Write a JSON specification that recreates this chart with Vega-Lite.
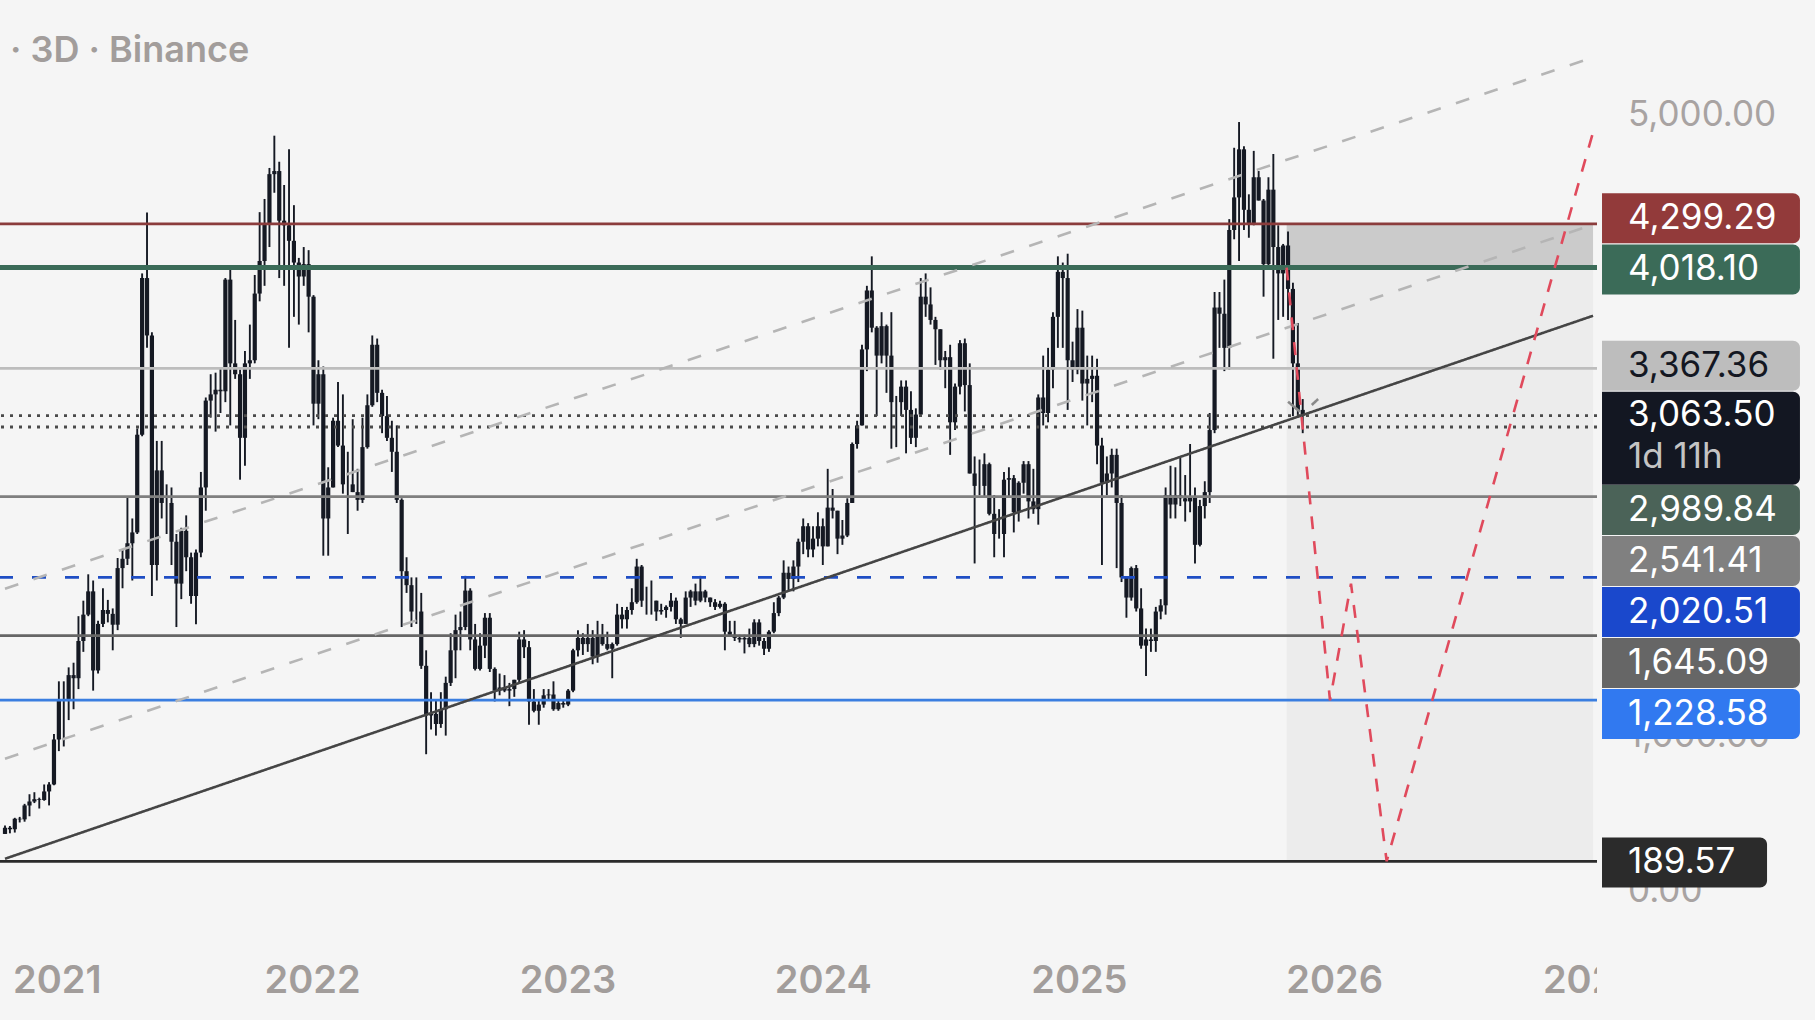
{
  "$schema": "https://vega.github.io/schema/vega-lite/v6.json",
  "background": "#f5f5f5",
  "padding": 0,
  "bounds": "flush",
  "spacing": 0,
  "config": {"view": {"stroke": null}, "font": "Inter"},
  "resolve": {"scale": {"x": "independent", "y": "independent", "color": "independent", "strokeDash": "independent"}},
  "datasets": {
    "candles": [
      {"t":"2020-10-19","o":366,"h":420,"l":365,"c":406},
      {"t":"2020-10-26","o":406,"h":417,"l":370,"c":396},
      {"t":"2020-11-02","o":396,"h":470,"l":375,"c":464},
      {"t":"2020-11-09","o":464,"h":476,"l":440,"c":460},
      {"t":"2020-11-16","o":460,"h":560,"l":445,"c":550},
      {"t":"2020-11-23","o":550,"h":622,"l":480,"c":575},
      {"t":"2020-11-30","o":575,"h":635,"l":565,"c":590},
      {"t":"2020-12-07","o":590,"h":600,"l":530,"c":585},
      {"t":"2020-12-14","o":585,"h":685,"l":580,"c":640},
      {"t":"2020-12-21","o":640,"h":700,"l":550,"c":685},
      {"t":"2020-12-28","o":685,"h":1010,"l":680,"c":975},
      {"t":"2021-01-04","o":975,"h":1350,"l":900,"c":1230},
      {"t":"2021-01-11","o":1230,"h":1350,"l":930,"c":1230},
      {"t":"2021-01-18","o":1230,"h":1440,"l":1100,"c":1390},
      {"t":"2021-01-25","o":1390,"h":1470,"l":1170,"c":1370},
      {"t":"2021-02-01","o":1370,"h":1770,"l":1300,"c":1610},
      {"t":"2021-02-08","o":1610,"h":1870,"l":1540,"c":1780},
      {"t":"2021-02-15","o":1780,"h":2040,"l":1770,"c":1930},
      {"t":"2021-02-22","o":1930,"h":2000,"l":1290,"c":1420},
      {"t":"2021-03-01","o":1420,"h":1740,"l":1400,"c":1720},
      {"t":"2021-03-08","o":1720,"h":1950,"l":1700,"c":1810},
      {"t":"2021-03-15","o":1810,"h":1875,"l":1730,"c":1785},
      {"t":"2021-03-22","o":1785,"h":1820,"l":1550,"c":1715},
      {"t":"2021-03-29","o":1715,"h":2145,"l":1680,"c":2080},
      {"t":"2021-04-05","o":2080,"h":2200,"l":1950,"c":2140},
      {"t":"2021-04-12","o":2140,"h":2545,"l":2100,"c":2240},
      {"t":"2021-04-19","o":2240,"h":2400,"l":2000,"c":2310},
      {"t":"2021-04-26","o":2310,"h":2980,"l":2300,"c":2940},
      {"t":"2021-05-03","o":2940,"h":3980,"l":2930,"c":3950},
      {"t":"2021-05-10","o":3950,"h":4372,"l":3500,"c":3580},
      {"t":"2021-05-17","o":3580,"h":3600,"l":1900,"c":2100},
      {"t":"2021-05-24","o":2100,"h":2900,"l":2000,"c":2710},
      {"t":"2021-05-31","o":2710,"h":2900,"l":2400,"c":2500},
      {"t":"2021-06-07","o":2500,"h":2620,"l":2300,"c":2500},
      {"t":"2021-06-14","o":2500,"h":2600,"l":2100,"c":2250},
      {"t":"2021-06-21","o":2250,"h":2300,"l":1700,"c":1980},
      {"t":"2021-06-28","o":1980,"h":2340,"l":1880,"c":2320},
      {"t":"2021-07-05","o":2320,"h":2420,"l":2060,"c":2150},
      {"t":"2021-07-12","o":2150,"h":2180,"l":1850,"c":1900},
      {"t":"2021-07-19","o":1900,"h":2200,"l":1718,"c":2180},
      {"t":"2021-07-26","o":2180,"h":2700,"l":2150,"c":2600},
      {"t":"2021-08-02","o":2600,"h":3180,"l":2450,"c":3160},
      {"t":"2021-08-09","o":3160,"h":3330,"l":3050,"c":3200},
      {"t":"2021-08-16","o":3200,"h":3340,"l":2960,"c":3230},
      {"t":"2021-08-23","o":3230,"h":3370,"l":3080,"c":3220},
      {"t":"2021-08-30","o":3220,"h":3950,"l":3150,"c":3940},
      {"t":"2021-09-06","o":3940,"h":4025,"l":3000,"c":3400},
      {"t":"2021-09-13","o":3400,"h":3680,"l":3300,"c":3330},
      {"t":"2021-09-20","o":3330,"h":3360,"l":2650,"c":2920},
      {"t":"2021-09-27","o":2920,"h":3480,"l":2740,"c":3400},
      {"t":"2021-10-04","o":3400,"h":3650,"l":3300,"c":3420},
      {"t":"2021-10-11","o":3420,"h":3970,"l":3400,"c":3850},
      {"t":"2021-10-18","o":3850,"h":4375,"l":3800,"c":4060},
      {"t":"2021-10-25","o":4060,"h":4460,"l":3900,"c":4300},
      {"t":"2021-11-01","o":4300,"h":4660,"l":4150,"c":4620},
      {"t":"2021-11-08","o":4620,"h":4868,"l":4500,"c":4640},
      {"t":"2021-11-15","o":4640,"h":4700,"l":3950,"c":4320},
      {"t":"2021-11-22","o":4320,"h":4550,"l":3900,"c":4290},
      {"t":"2021-11-29","o":4290,"h":4780,"l":3500,"c":4190},
      {"t":"2021-12-06","o":4190,"h":4420,"l":3700,"c":4050},
      {"t":"2021-12-13","o":4050,"h":4080,"l":3650,"c":3960},
      {"t":"2021-12-20","o":3960,"h":4150,"l":3900,"c":4040},
      {"t":"2021-12-27","o":4040,"h":4130,"l":3600,"c":3830},
      {"t":"2022-01-03","o":3830,"h":3840,"l":3000,"c":3140},
      {"t":"2022-01-10","o":3140,"h":3420,"l":3040,"c":3330},
      {"t":"2022-01-17","o":3330,"h":3380,"l":2160,"c":2400},
      {"t":"2022-01-24","o":2400,"h":2730,"l":2160,"c":2600},
      {"t":"2022-01-31","o":2600,"h":3050,"l":2600,"c":3030},
      {"t":"2022-02-07","o":3030,"h":3280,"l":2860,"c":2870},
      {"t":"2022-02-14","o":2870,"h":3200,"l":2560,"c":2620},
      {"t":"2022-02-21","o":2620,"h":2830,"l":2300,"c":2620},
      {"t":"2022-02-28","o":2620,"h":3040,"l":2570,"c":2570},
      {"t":"2022-03-07","o":2570,"h":2720,"l":2450,"c":2520},
      {"t":"2022-03-14","o":2520,"h":3050,"l":2500,"c":2860},
      {"t":"2022-03-21","o":2860,"h":3200,"l":2850,"c":3130},
      {"t":"2022-03-28","o":3130,"h":3580,"l":3120,"c":3520},
      {"t":"2022-04-04","o":3520,"h":3560,"l":3150,"c":3210},
      {"t":"2022-04-11","o":3210,"h":3230,"l":2950,"c":3060},
      {"t":"2022-04-18","o":3060,"h":3190,"l":2900,"c":2920},
      {"t":"2022-04-25","o":2920,"h":3030,"l":2700,"c":2830},
      {"t":"2022-05-02","o":2830,"h":3000,"l":2500,"c":2520},
      {"t":"2022-05-09","o":2520,"h":2530,"l":1700,"c":2060},
      {"t":"2022-05-16","o":2060,"h":2150,"l":1920,"c":1970},
      {"t":"2022-05-23","o":1970,"h":2020,"l":1700,"c":1800},
      {"t":"2022-05-30","o":1800,"h":2020,"l":1720,"c":1800},
      {"t":"2022-06-06","o":1800,"h":1920,"l":1430,"c":1450},
      {"t":"2022-06-13","o":1450,"h":1550,"l":880,"c":1130},
      {"t":"2022-06-20","o":1130,"h":1280,"l":1040,"c":1140},
      {"t":"2022-06-27","o":1140,"h":1230,"l":1000,"c":1075},
      {"t":"2022-07-04","o":1075,"h":1280,"l":1050,"c":1170},
      {"t":"2022-07-11","o":1170,"h":1380,"l":1000,"c":1340},
      {"t":"2022-07-18","o":1340,"h":1660,"l":1320,"c":1550},
      {"t":"2022-07-25","o":1550,"h":1780,"l":1370,"c":1680},
      {"t":"2022-08-01","o":1680,"h":1800,"l":1550,"c":1700},
      {"t":"2022-08-08","o":1700,"h":2030,"l":1680,"c":1935},
      {"t":"2022-08-15","o":1935,"h":1950,"l":1550,"c":1620},
      {"t":"2022-08-22","o":1620,"h":1720,"l":1420,"c":1430},
      {"t":"2022-08-29","o":1430,"h":1660,"l":1420,"c":1580},
      {"t":"2022-09-05","o":1580,"h":1790,"l":1500,"c":1760},
      {"t":"2022-09-12","o":1760,"h":1790,"l":1410,"c":1430},
      {"t":"2022-09-19","o":1430,"h":1440,"l":1220,"c":1290},
      {"t":"2022-09-26","o":1290,"h":1400,"l":1260,"c":1310},
      {"t":"2022-10-03","o":1310,"h":1390,"l":1280,"c":1290},
      {"t":"2022-10-10","o":1290,"h":1340,"l":1190,"c":1300},
      {"t":"2022-10-17","o":1300,"h":1360,"l":1250,"c":1360},
      {"t":"2022-10-24","o":1360,"h":1670,"l":1340,"c":1620},
      {"t":"2022-10-31","o":1620,"h":1680,"l":1500,"c":1570},
      {"t":"2022-11-07","o":1570,"h":1610,"l":1070,"c":1220},
      {"t":"2022-11-14","o":1220,"h":1300,"l":1150,"c":1160},
      {"t":"2022-11-21","o":1160,"h":1230,"l":1070,"c":1200},
      {"t":"2022-11-28","o":1200,"h":1300,"l":1180,"c":1260},
      {"t":"2022-12-05","o":1260,"h":1300,"l":1225,"c":1265},
      {"t":"2022-12-12","o":1265,"h":1350,"l":1160,"c":1170},
      {"t":"2022-12-19","o":1170,"h":1230,"l":1160,"c":1210},
      {"t":"2022-12-26","o":1210,"h":1230,"l":1180,"c":1200},
      {"t":"2023-01-02","o":1200,"h":1300,"l":1190,"c":1290},
      {"t":"2023-01-09","o":1290,"h":1560,"l":1280,"c":1550},
      {"t":"2023-01-16","o":1550,"h":1680,"l":1510,"c":1630},
      {"t":"2023-01-23","o":1630,"h":1660,"l":1520,"c":1590},
      {"t":"2023-01-30","o":1590,"h":1720,"l":1540,"c":1630},
      {"t":"2023-02-06","o":1630,"h":1680,"l":1460,"c":1510},
      {"t":"2023-02-13","o":1510,"h":1740,"l":1470,"c":1640},
      {"t":"2023-02-20","o":1640,"h":1720,"l":1580,"c":1590},
      {"t":"2023-02-27","o":1590,"h":1670,"l":1550,"c":1560},
      {"t":"2023-03-06","o":1560,"h":1600,"l":1370,"c":1590},
      {"t":"2023-03-13","o":1590,"h":1850,"l":1580,"c":1780},
      {"t":"2023-03-20","o":1780,"h":1830,"l":1690,"c":1750},
      {"t":"2023-03-27","o":1750,"h":1830,"l":1690,"c":1810},
      {"t":"2023-04-03","o":1810,"h":1950,"l":1780,"c":1860},
      {"t":"2023-04-10","o":1860,"h":2140,"l":1850,"c":2090},
      {"t":"2023-04-17","o":2090,"h":2100,"l":1830,"c":1870},
      {"t":"2023-04-24","o":1870,"h":1960,"l":1780,"c":1870},
      {"t":"2023-05-01","o":1870,"h":2000,"l":1780,"c":1870},
      {"t":"2023-05-08","o":1870,"h":1870,"l":1740,"c":1800},
      {"t":"2023-05-15","o":1800,"h":1850,"l":1780,"c":1810},
      {"t":"2023-05-22","o":1810,"h":1840,"l":1760,"c":1830},
      {"t":"2023-05-29","o":1830,"h":1920,"l":1800,"c":1870},
      {"t":"2023-06-05","o":1870,"h":1890,"l":1720,"c":1750},
      {"t":"2023-06-12","o":1750,"h":1760,"l":1630,"c":1720},
      {"t":"2023-06-19","o":1720,"h":1930,"l":1720,"c":1890},
      {"t":"2023-06-26","o":1890,"h":1940,"l":1830,"c":1930},
      {"t":"2023-07-03","o":1930,"h":1980,"l":1840,"c":1870},
      {"t":"2023-07-10","o":1870,"h":2030,"l":1860,"c":1930},
      {"t":"2023-07-17","o":1930,"h":1940,"l":1860,"c":1890},
      {"t":"2023-07-24","o":1890,"h":1890,"l":1830,"c":1860},
      {"t":"2023-07-31","o":1860,"h":1880,"l":1810,"c":1830},
      {"t":"2023-08-07","o":1830,"h":1870,"l":1820,"c":1850},
      {"t":"2023-08-14","o":1850,"h":1860,"l":1550,"c":1670},
      {"t":"2023-08-21","o":1670,"h":1740,"l":1650,"c":1650},
      {"t":"2023-08-28","o":1650,"h":1740,"l":1610,"c":1630},
      {"t":"2023-09-04","o":1630,"h":1650,"l":1600,"c":1620},
      {"t":"2023-09-11","o":1620,"h":1650,"l":1530,"c":1630},
      {"t":"2023-09-18","o":1630,"h":1690,"l":1570,"c":1590},
      {"t":"2023-09-25","o":1590,"h":1750,"l":1570,"c":1730},
      {"t":"2023-10-02","o":1730,"h":1750,"l":1580,"c":1610},
      {"t":"2023-10-09","o":1610,"h":1630,"l":1520,"c":1560},
      {"t":"2023-10-16","o":1560,"h":1680,"l":1540,"c":1670},
      {"t":"2023-10-23","o":1670,"h":1860,"l":1660,"c":1790},
      {"t":"2023-10-30","o":1790,"h":1900,"l":1770,"c":1890},
      {"t":"2023-11-06","o":1890,"h":2130,"l":1880,"c":2050},
      {"t":"2023-11-13","o":2050,"h":2090,"l":1930,"c":2010},
      {"t":"2023-11-20","o":2010,"h":2130,"l":1930,"c":2090},
      {"t":"2023-11-27","o":2090,"h":2270,"l":1990,"c":2250},
      {"t":"2023-12-04","o":2250,"h":2400,"l":2170,"c":2350},
      {"t":"2023-12-11","o":2350,"h":2370,"l":2150,"c":2200},
      {"t":"2023-12-18","o":2200,"h":2350,"l":2150,"c":2270},
      {"t":"2023-12-25","o":2270,"h":2440,"l":2220,"c":2350},
      {"t":"2024-01-01","o":2350,"h":2400,"l":2100,"c":2220},
      {"t":"2024-01-08","o":2220,"h":2720,"l":2220,"c":2470},
      {"t":"2024-01-15","o":2470,"h":2590,"l":2400,"c":2450},
      {"t":"2024-01-22","o":2450,"h":2450,"l":2170,"c":2270},
      {"t":"2024-01-29","o":2270,"h":2390,"l":2230,"c":2290},
      {"t":"2024-02-05","o":2290,"h":2530,"l":2280,"c":2500},
      {"t":"2024-02-12","o":2500,"h":2890,"l":2500,"c":2880},
      {"t":"2024-02-19","o":2880,"h":3030,"l":2850,"c":3000},
      {"t":"2024-02-26","o":3000,"h":3520,"l":3000,"c":3490},
      {"t":"2024-03-04","o":3490,"h":3900,"l":3350,"c":3870},
      {"t":"2024-03-11","o":3870,"h":4090,"l":3600,"c":3630},
      {"t":"2024-03-18","o":3630,"h":3640,"l":3060,"c":3450},
      {"t":"2024-03-25","o":3450,"h":3730,"l":3400,"c":3640},
      {"t":"2024-04-01","o":3640,"h":3650,"l":3210,"c":3450},
      {"t":"2024-04-08","o":3450,"h":3730,"l":2850,"c":3150},
      {"t":"2024-04-15","o":3150,"h":3190,"l":2860,"c":3150},
      {"t":"2024-04-22","o":3150,"h":3290,"l":3060,"c":3250},
      {"t":"2024-04-29","o":3250,"h":3290,"l":2820,"c":3100},
      {"t":"2024-05-06","o":3100,"h":3220,"l":2880,"c":2920},
      {"t":"2024-05-13","o":2920,"h":3110,"l":2860,"c":3070},
      {"t":"2024-05-20","o":3070,"h":3950,"l":3060,"c":3830},
      {"t":"2024-05-27","o":3830,"h":3980,"l":3700,"c":3780},
      {"t":"2024-06-03","o":3780,"h":3890,"l":3650,"c":3680},
      {"t":"2024-06-10","o":3680,"h":3700,"l":3390,"c":3620},
      {"t":"2024-06-17","o":3620,"h":3620,"l":3360,"c":3420},
      {"t":"2024-06-24","o":3420,"h":3480,"l":3240,"c":3440},
      {"t":"2024-07-01","o":3440,"h":3520,"l":2810,"c":3020},
      {"t":"2024-07-08","o":3020,"h":3270,"l":2970,"c":3250},
      {"t":"2024-07-15","o":3250,"h":3550,"l":3200,"c":3530},
      {"t":"2024-07-22","o":3530,"h":3560,"l":3090,"c":3260},
      {"t":"2024-07-29","o":3260,"h":3400,"l":2690,"c":2690},
      {"t":"2024-08-05","o":2690,"h":2800,"l":2110,"c":2610},
      {"t":"2024-08-12","o":2610,"h":2780,"l":2550,"c":2610},
      {"t":"2024-08-19","o":2610,"h":2820,"l":2540,"c":2750},
      {"t":"2024-08-26","o":2750,"h":2760,"l":2420,"c":2430},
      {"t":"2024-09-02","o":2430,"h":2550,"l":2150,"c":2300},
      {"t":"2024-09-09","o":2300,"h":2460,"l":2270,"c":2300},
      {"t":"2024-09-16","o":2300,"h":2700,"l":2150,"c":2650},
      {"t":"2024-09-23","o":2650,"h":2730,"l":2540,"c":2660},
      {"t":"2024-09-30","o":2660,"h":2680,"l":2310,"c":2440},
      {"t":"2024-10-07","o":2440,"h":2640,"l":2380,"c":2630},
      {"t":"2024-10-14","o":2630,"h":2770,"l":2560,"c":2750},
      {"t":"2024-10-21","o":2750,"h":2770,"l":2400,"c":2510},
      {"t":"2024-10-28","o":2510,"h":2720,"l":2430,"c":2460},
      {"t":"2024-11-04","o":2460,"h":3200,"l":2360,"c":3180},
      {"t":"2024-11-11","o":3180,"h":3450,"l":3000,"c":3080},
      {"t":"2024-11-18","o":3080,"h":3500,"l":3020,"c":3360},
      {"t":"2024-11-25","o":3360,"h":3730,"l":3240,"c":3700},
      {"t":"2024-12-02","o":3700,"h":4090,"l":3500,"c":3990},
      {"t":"2024-12-09","o":3990,"h":4050,"l":3500,"c":3950},
      {"t":"2024-12-16","o":3950,"h":4107,"l":3100,"c":3420},
      {"t":"2024-12-23","o":3420,"h":3540,"l":3280,"c":3360},
      {"t":"2024-12-30","o":3360,"h":3750,"l":3330,"c":3630},
      {"t":"2025-01-06","o":3630,"h":3740,"l":3160,"c":3270},
      {"t":"2025-01-13","o":3270,"h":3450,"l":3000,"c":3300},
      {"t":"2025-01-20","o":3300,"h":3450,"l":3150,"c":3320},
      {"t":"2025-01-27","o":3320,"h":3430,"l":2750,"c":2870},
      {"t":"2025-02-03","o":2870,"h":2920,"l":2100,"c":2630},
      {"t":"2025-02-10","o":2630,"h":2800,"l":2550,"c":2690},
      {"t":"2025-02-17","o":2690,"h":2850,"l":2600,"c":2810},
      {"t":"2025-02-24","o":2810,"h":2850,"l":2080,"c":2500},
      {"t":"2025-03-03","o":2500,"h":2550,"l":1990,"c":2020},
      {"t":"2025-03-10","o":2020,"h":2020,"l":1760,"c":1890},
      {"t":"2025-03-17","o":1890,"h":2090,"l":1870,"c":2080},
      {"t":"2025-03-24","o":2080,"h":2100,"l":1800,"c":1820},
      {"t":"2025-03-31","o":1820,"h":1950,"l":1560,"c":1580},
      {"t":"2025-04-07","o":1580,"h":1690,"l":1385,"c":1620},
      {"t":"2025-04-14","o":1620,"h":1690,"l":1540,"c":1610},
      {"t":"2025-04-21","o":1610,"h":1830,"l":1540,"c":1800},
      {"t":"2025-04-28","o":1800,"h":1880,"l":1750,"c":1840},
      {"t":"2025-05-05","o":1840,"h":2600,"l":1780,"c":2550},
      {"t":"2025-05-12","o":2550,"h":2740,"l":2400,"c":2490},
      {"t":"2025-05-19","o":2490,"h":2730,"l":2400,"c":2550},
      {"t":"2025-05-26","o":2550,"h":2790,"l":2480,"c":2530},
      {"t":"2025-06-02","o":2530,"h":2680,"l":2380,"c":2510},
      {"t":"2025-06-09","o":2510,"h":2880,"l":2440,"c":2540},
      {"t":"2025-06-16","o":2540,"h":2600,"l":2110,"c":2230},
      {"t":"2025-06-23","o":2230,"h":2520,"l":2220,"c":2480},
      {"t":"2025-06-30","o":2480,"h":2640,"l":2400,"c":2570},
      {"t":"2025-07-07","o":2570,"h":3080,"l":2500,"c":2970},
      {"t":"2025-07-14","o":2970,"h":3860,"l":2950,"c":3760},
      {"t":"2025-07-21","o":3760,"h":3860,"l":3500,"c":3720},
      {"t":"2025-07-28","o":3720,"h":3940,"l":3350,"c":3500},
      {"t":"2025-08-04","o":3500,"h":4330,"l":3360,"c":4260},
      {"t":"2025-08-11","o":4260,"h":4790,"l":4200,"c":4470},
      {"t":"2025-08-18","o":4470,"h":4956,"l":4060,"c":4780},
      {"t":"2025-08-25","o":4780,"h":4800,"l":4260,"c":4390},
      {"t":"2025-09-01","o":4390,"h":4490,"l":4210,"c":4300},
      {"t":"2025-09-08","o":4300,"h":4770,"l":4290,"c":4600},
      {"t":"2025-09-15","o":4600,"h":4640,"l":4450,"c":4450},
      {"t":"2025-09-22","o":4450,"h":4460,"l":3830,"c":4040},
      {"t":"2025-09-29","o":4040,"h":4600,"l":4020,"c":4520},
      {"t":"2025-10-06","o":4520,"h":4750,"l":3430,"c":4150},
      {"t":"2025-10-13","o":4150,"h":4290,"l":3680,"c":3980},
      {"t":"2025-10-20","o":3980,"h":4170,"l":3700,"c":4160},
      {"t":"2025-10-27","o":4160,"h":4250,"l":3680,"c":3880},
      {"t":"2025-11-03","o":3880,"h":3920,"l":3060,"c":3400},
      {"t":"2025-11-10","o":3400,"h":3660,"l":3050,"c":3100},
      {"t":"2025-11-17","o":3100,"h":3170,"l":2950,"c":3063.5}
    ],
    "levels": [
      {"name":"4,299.29","v":4299.29},
      {"name":"4,018.10","v":4018.10},
      {"name":"3,367.36","v":3367.36},
      {"name":"3,063.50","v":3063.50},
      {"name":"2,989.84","v":2989.84},
      {"name":"2,541.41","v":2541.41},
      {"name":"2,020.51","v":2020.51},
      {"name":"1,645.09","v":1645.09},
      {"name":"1,228.58","v":1228.58},
      {"name":"189.57","v":189.57}
    ],
    "zones": [
      {"zone":"stop","t":"2025-10-25","t2":"2027-01-06","lo":4018.10,"hi":4299.29},
      {"zone":"target","t":"2025-10-25","t2":"2027-01-06","lo":189.57,"hi":4018.10}
    ],
    "lines": [
      {"line":"channel_top","t":"2020-10-19","v":1947},
      {"line":"channel_top","t":"2027-01-06","v":5373},
      {"line":"channel_bottom","t":"2020-10-19","v":851},
      {"line":"channel_bottom","t":"2027-01-06","v":4294},
      {"line":"trend","t":"2020-10-19","v":206},
      {"line":"trend","t":"2027-01-06","v":3707},
      {"line":"arrow_left","t":"2025-10-27","v":3153},
      {"line":"arrow_left","t":"2025-11-13","v":3088},
      {"line":"arrow_right","t":"2025-11-30","v":3132},
      {"line":"arrow_right","t":"2025-12-09","v":3170},
      {"line":"projection","t":"2025-10-25","v":4018},
      {"line":"projection","t":"2025-12-26","v":1228},
      {"line":"projection","t":"2026-01-25","v":1980},
      {"line":"projection","t":"2026-03-17","v":190},
      {"line":"projection","t":"2027-01-06","v":4890}
    ],
    "tags": [
      {"name":"4,299.29","tag":4335},
      {"name":"4,018.10","tag":4006},
      {"name":"3,367.36","tag":3384},
      {"name":"3,063.50","tag":2918,"sub":"1d 11h"},
      {"name":"2,989.84","tag":2455},
      {"name":"2,541.41","tag":2126},
      {"name":"2,020.51","tag":1797},
      {"name":"1,645.09","tag":1468},
      {"name":"1,228.58","tag":1139},
      {"name":"189.57","tag":182}
    ],
    "ticks": [
      {"v":0,"label":"0.00"},
      {"v":1000,"label":"1,000.00"},
      {"v":5000,"label":"5,000.00"}
    ]
  },
  "hconcat": [
    {
      "width": 1597,
      "height": 940,
      "title": {"text": "· 3D · Binance", "anchor": "start", "orient": "top", "offset": -98, "dx": 10, "baseline": "alphabetic", "font": "Inter", "fontSize": 36, "fontWeight": 600, "color": "#a29d9b"},
      "resolve": {"scale": {"color": "independent", "strokeDash": "independent"}},
      "layer": [
        {
          "data": {"name": "zones"},
          "mark": {"type": "rect", "clip": true},
          "encoding": {
            "x": {"field": "t", "type": "temporal", "scale": {"domain": [{"year": 2020, "month": 10, "date": 19}, {"year": 2027, "month": 1, "date": 4, "hours": 12}]},
              "axis": {"title": null, "format": "%Y", "tickCount": {"interval": "year", "step": 1}, "grid": false, "domain": false, "ticks": false, "labelFlush": false, "labelOverlap": false, "labelBound": false, "labelPadding": 41, "labelBaseline": "middle", "labelFont": "Inter", "labelFontSize": 38, "labelFontWeight": 600, "labelColor": "#a29d9b"}},
            "x2": {"field": "t2"},
            "y": {"field": "lo", "type": "quantitative", "scale": {"domain": [-317.8, 5742.8], "nice": false, "zero": false}, "axis": null},
            "y2": {"field": "hi"},
            "color": {"field": "zone", "type": "nominal", "scale": {"domain": ["stop", "target"], "range": ["#cbcbcb", "#ececec"]}, "legend": null}
          }
        },
        {
          "data": {"name": "candles"},
          "mark": {"type": "rule", "clip": true, "color": "#151923", "strokeWidth": 1.9},
          "encoding": {
            "x": {"field": "t", "type": "temporal", "scale": {"domain": [{"year": 2020, "month": 10, "date": 19}, {"year": 2027, "month": 1, "date": 4, "hours": 12}]}},
            "y": {"field": "l", "type": "quantitative", "scale": {"domain": [-317.8, 5742.8], "nice": false, "zero": false}, "axis": null},
            "y2": {"field": "h"}
          }
        },
        {
          "data": {"name": "candles"},
          "mark": {"type": "bar", "clip": true, "color": "#151923", "width": 4.2},
          "encoding": {
            "x": {"field": "t", "type": "temporal", "scale": {"domain": [{"year": 2020, "month": 10, "date": 19}, {"year": 2027, "month": 1, "date": 4, "hours": 12}]}},
            "y": {"field": "o", "type": "quantitative", "scale": {"domain": [-317.8, 5742.8], "nice": false, "zero": false}, "axis": null},
            "y2": {"field": "c"}
          }
        },
        {
          "data": {"name": "levels"},
          "transform": [{"filter": "datum.name != '4,018.10'"}],
          "mark": {"type": "rule", "clip": true, "strokeWidth": 2.8},
          "encoding": {
            "y": {"field": "v", "type": "quantitative", "scale": {"domain": [-317.8, 5742.8], "nice": false, "zero": false}, "axis": null},
            "color": {"field": "name", "type": "nominal", "legend": null,
              "scale": {"domain": ["4,299.29", "3,367.36", "3,063.50", "2,989.84", "2,541.41", "2,020.51", "1,645.09", "1,228.58", "189.57"],
                "range": ["#8b3c3c", "#bdbdbd", "#4a4a4a", "#4a4a4a", "#7f7f7f", "#1f4ec4", "#666666", "#3a7ee0", "#2b2b2b"]}},
            "strokeDash": {"field": "name", "type": "nominal", "legend": null,
              "scale": {"domain": ["4,299.29", "3,367.36", "3,063.50", "2,989.84", "2,541.41", "2,020.51", "1,645.09", "1,228.58", "189.57"],
                "range": [[1, 0], [1, 0], [3, 6], [3, 6], [1, 0], [14, 19], [1, 0], [1, 0], [1, 0]]}}
          }
        },
        {
          "data": {"name": "levels"},
          "transform": [{"filter": "datum.name == '4,018.10'"}],
          "mark": {"type": "rule", "clip": true, "strokeWidth": 5, "color": "#3b6b58"},
          "encoding": {
            "y": {"field": "v", "type": "quantitative", "scale": {"domain": [-317.8, 5742.8], "nice": false, "zero": false}, "axis": null}
          }
        },
        {
          "data": {"name": "lines"},
          "mark": {"type": "line", "clip": true, "strokeWidth": 2.6, "strokeCap": "butt"},
          "encoding": {
            "x": {"field": "t", "type": "temporal", "scale": {"domain": [{"year": 2020, "month": 10, "date": 19}, {"year": 2027, "month": 1, "date": 4, "hours": 12}]}},
            "y": {"field": "v", "type": "quantitative", "scale": {"domain": [-317.8, 5742.8], "nice": false, "zero": false}, "axis": null},
            "color": {"field": "line", "type": "nominal", "legend": null,
              "scale": {"domain": ["channel_top", "channel_bottom", "trend", "arrow_left", "arrow_right", "projection"], "range": ["#b5b5b5", "#b5b5b5", "#454545", "#8a8a8a", "#8a8a8a", "#e04a5c"]}},
            "strokeDash": {"field": "line", "type": "nominal", "legend": null,
              "scale": {"domain": ["channel_top", "channel_bottom", "trend", "arrow_left", "arrow_right", "projection"], "range": [[14, 16], [14, 16], [1, 0], [1, 0], [1, 0], [13, 12]]}}
          }
        }
      ]
    },
    {
      "width": 218,
      "height": 1020,
      "view": {"fill": "#f5f5f5", "stroke": null},
      "layer": [
        {
          "data": {"name": "ticks"},
          "mark": {"type": "text", "align": "left", "baseline": "middle", "font": "Inter", "fontSize": 35, "color": "#a8a3a2"},
          "encoding": {
            "x": {"datum": 0.142, "type": "quantitative", "scale": {"domain": [0, 1]}, "axis": null},
            "y": {"field": "v", "type": "quantitative", "scale": {"domain": [-833.6, 5742.8], "nice": false, "zero": false}, "axis": null},
            "text": {"field": "label"}
          }
        },
        {
          "data": {"name": "tags"},
          "transform": [{"filter": "datum.name != '3,063.50' && datum.name != '189.57'"}],
          "mark": {"type": "rect", "height": 50, "cornerRadiusTopRight": 7, "cornerRadiusBottomRight": 7},
          "encoding": {
            "x": {"datum": 0.023, "type": "quantitative", "scale": {"domain": [0, 1]}, "axis": null},
            "x2": {"datum": 0.931},
            "y": {"field": "tag", "type": "quantitative", "scale": {"domain": [-833.6, 5742.8], "nice": false, "zero": false}, "axis": null},
            "color": {"field": "name", "type": "nominal", "legend": null,
              "scale": {"domain": ["4,299.29", "4,018.10", "3,367.36", "3,063.50", "2,989.84", "2,541.41", "2,020.51", "1,645.09", "1,228.58", "189.57"],
                "range": ["#923a3a", "#3b6b58", "#bdbdbd", "#131722", "#4b6358", "#808080", "#1a48cc", "#666666", "#3179f0", "#2b2b2b"]}}
          }
        },
        {
          "data": {"name": "tags"},
          "transform": [{"filter": "datum.name == '189.57'"}],
          "mark": {"type": "rect", "height": 50, "cornerRadiusTopRight": 7, "cornerRadiusBottomRight": 7, "color": "#2b2b2b"},
          "encoding": {
            "x": {"datum": 0.023, "type": "quantitative", "scale": {"domain": [0, 1]}, "axis": null},
            "x2": {"datum": 0.78},
            "y": {"field": "tag", "type": "quantitative", "scale": {"domain": [-833.6, 5742.8], "nice": false, "zero": false}, "axis": null}
          }
        },
        {
          "data": {"name": "tags"},
          "transform": [{"filter": "datum.name == '3,063.50'"}],
          "mark": {"type": "rect", "height": 93, "cornerRadiusTopRight": 7, "cornerRadiusBottomRight": 7, "color": "#131722"},
          "encoding": {
            "x": {"datum": 0.023, "type": "quantitative", "scale": {"domain": [0, 1]}, "axis": null},
            "x2": {"datum": 0.931},
            "y": {"field": "tag", "type": "quantitative", "scale": {"domain": [-833.6, 5742.8], "nice": false, "zero": false}, "axis": null}
          }
        },
        {
          "data": {"name": "tags"},
          "transform": [{"filter": "datum.name != '3,063.50'"}],
          "mark": {"type": "text", "align": "left", "baseline": "middle", "font": "Inter", "fontSize": 35},
          "encoding": {
            "x": {"datum": 0.142, "type": "quantitative", "scale": {"domain": [0, 1]}, "axis": null},
            "y": {"field": "tag", "type": "quantitative", "scale": {"domain": [-833.6, 5742.8], "nice": false, "zero": false}, "axis": null},
            "text": {"field": "name"},
            "color": {"condition": {"test": "datum.name == '3,367.36'", "value": "#131722"}, "value": "#ffffff"}
          }
        },
        {
          "data": {"name": "tags"},
          "transform": [{"filter": "datum.name == '3,063.50'"}],
          "mark": {"type": "text", "align": "left", "baseline": "middle", "font": "Inter", "fontSize": 35, "dy": -23, "color": "#ffffff"},
          "encoding": {
            "x": {"datum": 0.142, "type": "quantitative", "scale": {"domain": [0, 1]}, "axis": null},
            "y": {"field": "tag", "type": "quantitative", "scale": {"domain": [-833.6, 5742.8], "nice": false, "zero": false}, "axis": null},
            "text": {"field": "name"}
          }
        },
        {
          "data": {"name": "tags"},
          "transform": [{"filter": "isValid(datum.sub)"}],
          "mark": {"type": "text", "align": "left", "baseline": "middle", "font": "Inter", "fontSize": 35, "dy": 19, "color": "#c4c4c4"},
          "encoding": {
            "x": {"datum": 0.142, "type": "quantitative", "scale": {"domain": [0, 1]}, "axis": null},
            "y": {"field": "tag", "type": "quantitative", "scale": {"domain": [-833.6, 5742.8], "nice": false, "zero": false}, "axis": null},
            "text": {"field": "sub"}
          }
        }
      ]
    }
  ]
}
